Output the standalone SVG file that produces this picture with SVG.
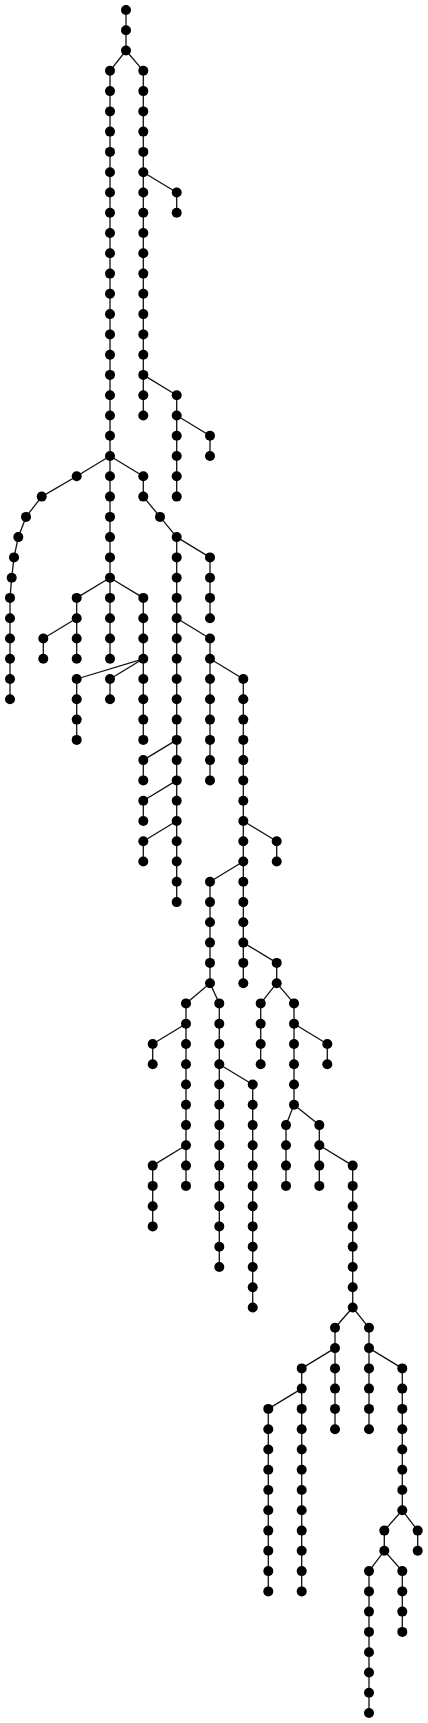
<svg xmlns="http://www.w3.org/2000/svg" width="428" height="1723" viewBox="0 0 428 1723">
<style>
.e line{stroke:#111;stroke-width:1.3;fill:none}
.n circle{fill:#000}
</style>
<rect width="428" height="1723" fill="#fff"/>
<g id="connectors" class="e">
<line x1="126" y1="10" x2="126" y2="30.3"/><line x1="126" y1="30.3" x2="126" y2="50.5"/>
<line x1="126" y1="50.5" x2="110" y2="70.8"/><line x1="126" y1="50.5" x2="143.3" y2="70.8"/>
<line x1="110" y1="70.8" x2="110" y2="91.1"/><line x1="110" y1="91.1" x2="110" y2="111.4"/><line x1="110" y1="111.4" x2="110" y2="131.6"/><line x1="110" y1="131.6" x2="110" y2="151.9"/><line x1="110" y1="151.9" x2="110" y2="172.2"/><line x1="110" y1="172.2" x2="110" y2="192.5"/><line x1="110" y1="192.5" x2="110" y2="212.7"/><line x1="110" y1="212.7" x2="110" y2="233"/><line x1="110" y1="233" x2="110" y2="253.3"/><line x1="110" y1="253.3" x2="110" y2="273.6"/><line x1="110" y1="273.6" x2="110" y2="293.8"/><line x1="110" y1="293.8" x2="110" y2="314.1"/><line x1="110" y1="314.1" x2="110" y2="334.4"/><line x1="110" y1="334.4" x2="110" y2="354.7"/><line x1="110" y1="354.7" x2="110" y2="374.9"/><line x1="110" y1="374.9" x2="110" y2="395.2"/><line x1="110" y1="395.2" x2="110" y2="415.5"/><line x1="110" y1="415.5" x2="110" y2="435.8"/><line x1="110" y1="435.8" x2="110" y2="456"/>
<line x1="143.3" y1="70.8" x2="143.3" y2="91.1"/><line x1="143.3" y1="91.1" x2="143.3" y2="111.4"/><line x1="143.3" y1="111.4" x2="143.3" y2="131.6"/><line x1="143.3" y1="131.6" x2="143.3" y2="151.9"/><line x1="143.3" y1="151.9" x2="143.3" y2="172.2"/><line x1="143.3" y1="172.2" x2="143.3" y2="192.5"/><line x1="143.3" y1="192.5" x2="143.3" y2="212.7"/><line x1="143.3" y1="212.7" x2="143.3" y2="233"/><line x1="143.3" y1="233" x2="143.3" y2="253.3"/><line x1="143.3" y1="253.3" x2="143.3" y2="273.6"/><line x1="143.3" y1="273.6" x2="143.3" y2="293.8"/><line x1="143.3" y1="293.8" x2="143.3" y2="314.1"/><line x1="143.3" y1="314.1" x2="143.3" y2="334.4"/><line x1="143.3" y1="334.4" x2="143.3" y2="354.7"/><line x1="143.3" y1="354.7" x2="143.3" y2="374.9"/><line x1="143.3" y1="374.9" x2="143.3" y2="395.2"/><line x1="143.3" y1="395.2" x2="143.3" y2="415.5"/>
<line x1="143.3" y1="172.2" x2="176.7" y2="192.5"/><line x1="176.7" y1="192.5" x2="176.7" y2="212.7"/>
<line x1="143.3" y1="374.9" x2="176.7" y2="395.2"/><line x1="176.7" y1="395.2" x2="176.7" y2="415.5"/><line x1="176.7" y1="415.5" x2="176.7" y2="435.8"/><line x1="176.7" y1="435.8" x2="176.7" y2="456"/><line x1="176.7" y1="456" x2="176.7" y2="476.3"/><line x1="176.7" y1="476.3" x2="176.7" y2="496.6"/>
<line x1="176.7" y1="415.5" x2="210" y2="435.8"/><line x1="210" y1="435.8" x2="210" y2="456"/>
<line x1="110" y1="456" x2="76.7" y2="476.3"/><line x1="76.7" y1="476.3" x2="41.7" y2="496.6"/><line x1="41.7" y1="496.6" x2="26" y2="516.9"/><line x1="26" y1="516.9" x2="18.3" y2="537.1"/><line x1="18.3" y1="537.1" x2="14" y2="557.4"/><line x1="14" y1="557.4" x2="11.7" y2="577.7"/><line x1="11.7" y1="577.7" x2="10" y2="597.9"/><line x1="10" y1="597.9" x2="10" y2="618.2"/><line x1="10" y1="618.2" x2="10" y2="638.5"/><line x1="10" y1="638.5" x2="10" y2="658.8"/><line x1="10" y1="658.8" x2="10" y2="679"/><line x1="10" y1="679" x2="10" y2="699.3"/>
<line x1="110" y1="456" x2="110" y2="476.3"/><line x1="110" y1="476.3" x2="110" y2="496.6"/><line x1="110" y1="496.6" x2="110" y2="516.9"/><line x1="110" y1="516.9" x2="110" y2="537.1"/><line x1="110" y1="537.1" x2="110" y2="557.4"/><line x1="110" y1="557.4" x2="110" y2="577.7"/>
<line x1="110" y1="577.7" x2="76.7" y2="597.9"/><line x1="76.7" y1="597.9" x2="76.7" y2="618.2"/><line x1="76.7" y1="618.2" x2="76.7" y2="638.5"/><line x1="76.7" y1="638.5" x2="76.7" y2="658.8"/>
<line x1="76.7" y1="618.2" x2="43.3" y2="638.5"/><line x1="43.3" y1="638.5" x2="43.3" y2="658.8"/>
<line x1="110" y1="577.7" x2="110" y2="597.9"/><line x1="110" y1="597.9" x2="110" y2="618.2"/><line x1="110" y1="618.2" x2="110" y2="638.5"/><line x1="110" y1="638.5" x2="110" y2="658.8"/>
<line x1="110" y1="577.7" x2="143.3" y2="597.9"/><line x1="143.3" y1="597.9" x2="143.3" y2="618.2"/><line x1="143.3" y1="618.2" x2="143.3" y2="638.5"/><line x1="143.3" y1="638.5" x2="143.3" y2="658.8"/>
<line x1="143.3" y1="658.8" x2="76.7" y2="679"/><line x1="76.7" y1="679" x2="76.7" y2="699.3"/><line x1="76.7" y1="699.3" x2="76.7" y2="719.6"/><line x1="76.7" y1="719.6" x2="76.7" y2="739.9"/>
<line x1="143.3" y1="658.8" x2="110" y2="679"/><line x1="110" y1="679" x2="110" y2="699.3"/>
<line x1="143.3" y1="658.8" x2="143.3" y2="679"/><line x1="143.3" y1="679" x2="143.3" y2="699.3"/><line x1="143.3" y1="699.3" x2="143.3" y2="719.6"/><line x1="143.3" y1="719.6" x2="143.3" y2="739.9"/>
<line x1="110" y1="456" x2="143.3" y2="476.3"/><line x1="143.3" y1="476.3" x2="143.3" y2="496.6"/><line x1="143.3" y1="496.6" x2="160" y2="516.9"/><line x1="160" y1="516.9" x2="176.7" y2="537.1"/>
<line x1="176.7" y1="537.1" x2="176.7" y2="557.4"/><line x1="176.7" y1="557.4" x2="176.7" y2="577.7"/><line x1="176.7" y1="577.7" x2="176.7" y2="597.9"/><line x1="176.7" y1="597.9" x2="176.7" y2="618.2"/><line x1="176.7" y1="618.2" x2="176.7" y2="638.5"/><line x1="176.7" y1="638.5" x2="176.7" y2="658.8"/><line x1="176.7" y1="658.8" x2="176.7" y2="679"/><line x1="176.7" y1="679" x2="176.7" y2="699.3"/><line x1="176.7" y1="699.3" x2="176.7" y2="719.6"/><line x1="176.7" y1="719.6" x2="176.7" y2="739.9"/><line x1="176.7" y1="739.9" x2="176.7" y2="760.1"/><line x1="176.7" y1="760.1" x2="176.7" y2="780.4"/><line x1="176.7" y1="780.4" x2="176.7" y2="800.7"/><line x1="176.7" y1="800.7" x2="176.7" y2="821"/><line x1="176.7" y1="821" x2="176.7" y2="841.2"/><line x1="176.7" y1="841.2" x2="176.7" y2="861.5"/><line x1="176.7" y1="861.5" x2="176.7" y2="881.8"/><line x1="176.7" y1="881.8" x2="176.7" y2="902.1"/>
<line x1="176.7" y1="537.1" x2="210" y2="557.4"/><line x1="210" y1="557.4" x2="210" y2="577.7"/><line x1="210" y1="577.7" x2="210" y2="597.9"/><line x1="210" y1="597.9" x2="210" y2="618.2"/>
<line x1="176.7" y1="618.2" x2="210" y2="638.5"/><line x1="210" y1="638.5" x2="210" y2="658.8"/><line x1="210" y1="658.8" x2="210" y2="679"/><line x1="210" y1="679" x2="210" y2="699.3"/><line x1="210" y1="699.3" x2="210" y2="719.6"/><line x1="210" y1="719.6" x2="210" y2="739.9"/><line x1="210" y1="739.9" x2="210" y2="760.1"/><line x1="210" y1="760.1" x2="210" y2="780.4"/>
<line x1="176.7" y1="739.9" x2="143.3" y2="760.1"/><line x1="143.3" y1="760.1" x2="143.3" y2="780.4"/>
<line x1="176.7" y1="780.4" x2="143.3" y2="800.7"/><line x1="143.3" y1="800.7" x2="143.3" y2="821"/>
<line x1="176.7" y1="821" x2="143.3" y2="841.2"/><line x1="143.3" y1="841.2" x2="143.3" y2="861.5"/>
<line x1="210" y1="658.8" x2="243.3" y2="679"/><line x1="243.3" y1="679" x2="243.3" y2="699.3"/><line x1="243.3" y1="699.3" x2="243.3" y2="719.6"/><line x1="243.3" y1="719.6" x2="243.3" y2="739.9"/><line x1="243.3" y1="739.9" x2="243.3" y2="760.1"/><line x1="243.3" y1="760.1" x2="243.3" y2="780.4"/><line x1="243.3" y1="780.4" x2="243.3" y2="800.7"/><line x1="243.3" y1="800.7" x2="243.3" y2="821"/><line x1="243.3" y1="821" x2="243.3" y2="841.2"/><line x1="243.3" y1="841.2" x2="243.3" y2="861.5"/><line x1="243.3" y1="861.5" x2="243.3" y2="881.8"/><line x1="243.3" y1="881.8" x2="243.3" y2="902.1"/><line x1="243.3" y1="902.1" x2="243.3" y2="922.3"/><line x1="243.3" y1="922.3" x2="243.3" y2="942.6"/><line x1="243.3" y1="942.6" x2="243.3" y2="962.9"/><line x1="243.3" y1="962.9" x2="243.3" y2="983.2"/>
<line x1="243.3" y1="821" x2="276.7" y2="841.2"/><line x1="276.7" y1="841.2" x2="276.7" y2="861.5"/>
<line x1="243.3" y1="861.5" x2="210" y2="881.8"/><line x1="210" y1="881.8" x2="210" y2="902.1"/><line x1="210" y1="902.1" x2="210" y2="922.3"/><line x1="210" y1="922.3" x2="210" y2="942.6"/><line x1="210" y1="942.6" x2="210" y2="962.9"/><line x1="210" y1="962.9" x2="210" y2="983.2"/>
<line x1="210" y1="983.2" x2="186" y2="1003.4"/><line x1="186" y1="1003.4" x2="186" y2="1023.7"/><line x1="186" y1="1023.7" x2="186" y2="1044"/><line x1="186" y1="1044" x2="186" y2="1064.2"/><line x1="186" y1="1064.2" x2="186" y2="1084.5"/><line x1="186" y1="1084.5" x2="186" y2="1104.8"/><line x1="186" y1="1104.8" x2="186" y2="1125.1"/><line x1="186" y1="1125.1" x2="186" y2="1145.3"/><line x1="186" y1="1145.3" x2="186" y2="1165.6"/><line x1="186" y1="1165.6" x2="186" y2="1185.9"/>
<line x1="186" y1="1023.7" x2="152.7" y2="1044"/><line x1="152.7" y1="1044" x2="152.7" y2="1064.2"/>
<line x1="186" y1="1145.3" x2="152.7" y2="1165.6"/><line x1="152.7" y1="1165.6" x2="152.7" y2="1185.9"/><line x1="152.7" y1="1185.9" x2="152.7" y2="1206.2"/><line x1="152.7" y1="1206.2" x2="152.7" y2="1226.4"/>
<line x1="210" y1="983.2" x2="219.3" y2="1003.4"/><line x1="219.3" y1="1003.4" x2="219.3" y2="1023.7"/><line x1="219.3" y1="1023.7" x2="219.3" y2="1044"/><line x1="219.3" y1="1044" x2="219.3" y2="1064.2"/><line x1="219.3" y1="1064.2" x2="219.3" y2="1084.5"/><line x1="219.3" y1="1084.5" x2="219.3" y2="1104.8"/><line x1="219.3" y1="1104.8" x2="219.3" y2="1125.1"/><line x1="219.3" y1="1125.1" x2="219.3" y2="1145.3"/><line x1="219.3" y1="1145.3" x2="219.3" y2="1165.6"/><line x1="219.3" y1="1165.6" x2="219.3" y2="1185.9"/><line x1="219.3" y1="1185.9" x2="219.3" y2="1206.2"/><line x1="219.3" y1="1206.2" x2="219.3" y2="1226.4"/><line x1="219.3" y1="1226.4" x2="219.3" y2="1246.7"/><line x1="219.3" y1="1246.7" x2="219.3" y2="1267"/>
<line x1="219.3" y1="1064.2" x2="252.7" y2="1084.5"/><line x1="252.7" y1="1084.5" x2="252.7" y2="1104.8"/><line x1="252.7" y1="1104.8" x2="252.7" y2="1125.1"/><line x1="252.7" y1="1125.1" x2="252.7" y2="1145.3"/><line x1="252.7" y1="1145.3" x2="252.7" y2="1165.6"/><line x1="252.7" y1="1165.6" x2="252.7" y2="1185.9"/><line x1="252.7" y1="1185.9" x2="252.7" y2="1206.2"/><line x1="252.7" y1="1206.2" x2="252.7" y2="1226.4"/><line x1="252.7" y1="1226.4" x2="252.7" y2="1246.7"/><line x1="252.7" y1="1246.7" x2="252.7" y2="1267"/><line x1="252.7" y1="1267" x2="252.7" y2="1287.3"/><line x1="252.7" y1="1287.3" x2="252.7" y2="1307.5"/>
<line x1="243.3" y1="942.6" x2="276.7" y2="962.9"/><line x1="276.7" y1="962.9" x2="276.7" y2="983.2"/>
<line x1="276.7" y1="983.2" x2="260.7" y2="1003.4"/><line x1="260.7" y1="1003.4" x2="260.7" y2="1023.7"/><line x1="260.7" y1="1023.7" x2="260.7" y2="1044"/><line x1="260.7" y1="1044" x2="260.7" y2="1064.2"/>
<line x1="276.7" y1="983.2" x2="294" y2="1003.4"/><line x1="294" y1="1003.4" x2="294" y2="1023.7"/><line x1="294" y1="1023.7" x2="294" y2="1044"/><line x1="294" y1="1044" x2="294" y2="1064.2"/><line x1="294" y1="1064.2" x2="294" y2="1084.5"/><line x1="294" y1="1084.5" x2="294" y2="1104.8"/>
<line x1="294" y1="1023.7" x2="327.3" y2="1044"/><line x1="327.3" y1="1044" x2="327.3" y2="1064.2"/>
<line x1="294" y1="1104.8" x2="286" y2="1125.1"/><line x1="286" y1="1125.1" x2="286" y2="1145.3"/><line x1="286" y1="1145.3" x2="286" y2="1165.6"/><line x1="286" y1="1165.6" x2="286" y2="1185.9"/>
<line x1="294" y1="1104.8" x2="319.3" y2="1125.1"/><line x1="319.3" y1="1125.1" x2="319.3" y2="1145.3"/><line x1="319.3" y1="1145.3" x2="319.3" y2="1165.6"/><line x1="319.3" y1="1165.6" x2="319.3" y2="1185.9"/>
<line x1="319.3" y1="1145.3" x2="352.7" y2="1165.6"/><line x1="352.7" y1="1165.6" x2="352.7" y2="1185.9"/><line x1="352.7" y1="1185.9" x2="352.7" y2="1206.2"/><line x1="352.7" y1="1206.2" x2="352.7" y2="1226.4"/><line x1="352.7" y1="1226.4" x2="352.7" y2="1246.7"/><line x1="352.7" y1="1246.7" x2="352.7" y2="1267"/><line x1="352.7" y1="1267" x2="352.7" y2="1287.3"/><line x1="352.7" y1="1287.3" x2="352.7" y2="1307.5"/>
<line x1="352.7" y1="1307.5" x2="335" y2="1327.8"/><line x1="335" y1="1327.8" x2="335" y2="1348.1"/><line x1="335" y1="1348.1" x2="335" y2="1368.4"/><line x1="335" y1="1368.4" x2="335" y2="1388.6"/><line x1="335" y1="1388.6" x2="335" y2="1408.9"/><line x1="335" y1="1408.9" x2="335" y2="1429.2"/>
<line x1="335" y1="1348.1" x2="301.7" y2="1368.4"/><line x1="301.7" y1="1368.4" x2="301.7" y2="1388.6"/><line x1="301.7" y1="1388.6" x2="301.7" y2="1408.9"/><line x1="301.7" y1="1408.9" x2="301.7" y2="1429.2"/><line x1="301.7" y1="1429.2" x2="301.7" y2="1449.5"/><line x1="301.7" y1="1449.5" x2="301.7" y2="1469.7"/><line x1="301.7" y1="1469.7" x2="301.7" y2="1490"/><line x1="301.7" y1="1490" x2="301.7" y2="1510.3"/><line x1="301.7" y1="1510.3" x2="301.7" y2="1530.6"/><line x1="301.7" y1="1530.6" x2="301.7" y2="1550.8"/><line x1="301.7" y1="1550.8" x2="301.7" y2="1571.1"/><line x1="301.7" y1="1571.1" x2="301.7" y2="1591.4"/>
<line x1="301.7" y1="1388.6" x2="268.3" y2="1408.9"/><line x1="268.3" y1="1408.9" x2="268.3" y2="1429.2"/><line x1="268.3" y1="1429.2" x2="268.3" y2="1449.5"/><line x1="268.3" y1="1449.5" x2="268.3" y2="1469.7"/><line x1="268.3" y1="1469.7" x2="268.3" y2="1490"/><line x1="268.3" y1="1490" x2="268.3" y2="1510.3"/><line x1="268.3" y1="1510.3" x2="268.3" y2="1530.6"/><line x1="268.3" y1="1530.6" x2="268.3" y2="1550.8"/><line x1="268.3" y1="1550.8" x2="268.3" y2="1571.1"/><line x1="268.3" y1="1571.1" x2="268.3" y2="1591.4"/>
<line x1="352.7" y1="1307.5" x2="369" y2="1327.8"/><line x1="369" y1="1327.8" x2="369" y2="1348.1"/><line x1="369" y1="1348.1" x2="369" y2="1368.4"/><line x1="369" y1="1368.4" x2="369" y2="1388.6"/><line x1="369" y1="1388.6" x2="369" y2="1408.9"/><line x1="369" y1="1408.9" x2="369" y2="1429.2"/>
<line x1="369" y1="1348.1" x2="402.3" y2="1368.4"/><line x1="402.3" y1="1368.4" x2="402.3" y2="1388.6"/><line x1="402.3" y1="1388.6" x2="402.3" y2="1408.9"/><line x1="402.3" y1="1408.9" x2="402.3" y2="1429.2"/><line x1="402.3" y1="1429.2" x2="402.3" y2="1449.5"/><line x1="402.3" y1="1449.5" x2="402.3" y2="1469.7"/><line x1="402.3" y1="1469.7" x2="402.3" y2="1490"/><line x1="402.3" y1="1490" x2="402.3" y2="1510.3"/>
<line x1="402.3" y1="1510.3" x2="384.3" y2="1530.6"/><line x1="384.3" y1="1530.6" x2="384.3" y2="1550.8"/>
<line x1="384.3" y1="1550.8" x2="369" y2="1571.1"/><line x1="369" y1="1571.1" x2="369" y2="1591.4"/><line x1="369" y1="1591.4" x2="369" y2="1611.6"/><line x1="369" y1="1611.6" x2="369" y2="1631.9"/><line x1="369" y1="1631.9" x2="369" y2="1652.2"/><line x1="369" y1="1652.2" x2="369" y2="1672.5"/><line x1="369" y1="1672.5" x2="369" y2="1692.7"/><line x1="369" y1="1692.7" x2="369" y2="1713"/>
<line x1="384.3" y1="1550.8" x2="402.3" y2="1571.1"/><line x1="402.3" y1="1571.1" x2="402.3" y2="1591.4"/><line x1="402.3" y1="1591.4" x2="402.3" y2="1611.6"/><line x1="402.3" y1="1611.6" x2="402.3" y2="1631.9"/>
<line x1="402.3" y1="1510.3" x2="417.7" y2="1530.6"/><line x1="417.7" y1="1530.6" x2="417.7" y2="1550.8"/>
</g>
<g id="nodes" class="n">
<g id="n0"><circle cx="126" cy="10" r="5"/></g><g id="n1"><circle cx="126" cy="30.3" r="5"/></g><g id="n2"><circle cx="126" cy="50.5" r="5"/></g>
<g id="a3"><circle cx="110" cy="70.8" r="5"/></g><g id="a4"><circle cx="110" cy="91.1" r="5"/></g><g id="a5"><circle cx="110" cy="111.4" r="5"/></g><g id="a6"><circle cx="110" cy="131.6" r="5"/></g><g id="a7"><circle cx="110" cy="151.9" r="5"/></g><g id="a8"><circle cx="110" cy="172.2" r="5"/></g><g id="a9"><circle cx="110" cy="192.5" r="5"/></g><g id="a10"><circle cx="110" cy="212.7" r="5"/></g><g id="a11"><circle cx="110" cy="233" r="5"/></g><g id="a12"><circle cx="110" cy="253.3" r="5"/></g><g id="a13"><circle cx="110" cy="273.6" r="5"/></g><g id="a14"><circle cx="110" cy="293.8" r="5"/></g><g id="a15"><circle cx="110" cy="314.1" r="5"/></g><g id="a16"><circle cx="110" cy="334.4" r="5"/></g><g id="a17"><circle cx="110" cy="354.7" r="5"/></g><g id="a18"><circle cx="110" cy="374.9" r="5"/></g><g id="a19"><circle cx="110" cy="395.2" r="5"/></g><g id="a20"><circle cx="110" cy="415.5" r="5"/></g><g id="a21"><circle cx="110" cy="435.8" r="5"/></g><g id="a22"><circle cx="110" cy="456" r="5"/></g>
<g id="b3"><circle cx="143.3" cy="70.8" r="5"/></g><g id="b4"><circle cx="143.3" cy="91.1" r="5"/></g><g id="b5"><circle cx="143.3" cy="111.4" r="5"/></g><g id="b6"><circle cx="143.3" cy="131.6" r="5"/></g><g id="b7"><circle cx="143.3" cy="151.9" r="5"/></g><g id="b8"><circle cx="143.3" cy="172.2" r="5"/></g><g id="b9"><circle cx="143.3" cy="192.5" r="5"/></g><g id="b10"><circle cx="143.3" cy="212.7" r="5"/></g><g id="b11"><circle cx="143.3" cy="233" r="5"/></g><g id="b12"><circle cx="143.3" cy="253.3" r="5"/></g><g id="b13"><circle cx="143.3" cy="273.6" r="5"/></g><g id="b14"><circle cx="143.3" cy="293.8" r="5"/></g><g id="b15"><circle cx="143.3" cy="314.1" r="5"/></g><g id="b16"><circle cx="143.3" cy="334.4" r="5"/></g><g id="b17"><circle cx="143.3" cy="354.7" r="5"/></g><g id="b18"><circle cx="143.3" cy="374.9" r="5"/></g><g id="b19"><circle cx="143.3" cy="395.2" r="5"/></g><g id="b20"><circle cx="143.3" cy="415.5" r="5"/></g>
<g id="c9"><circle cx="176.7" cy="192.5" r="5"/></g><g id="c10"><circle cx="176.7" cy="212.7" r="5"/></g>
<g id="d19"><circle cx="176.7" cy="395.2" r="5"/></g><g id="d20"><circle cx="176.7" cy="415.5" r="5"/></g><g id="d21"><circle cx="176.7" cy="435.8" r="5"/></g><g id="d22"><circle cx="176.7" cy="456" r="5"/></g><g id="d23"><circle cx="176.7" cy="476.3" r="5"/></g><g id="d24"><circle cx="176.7" cy="496.6" r="5"/></g>
<g id="e21"><circle cx="210" cy="435.8" r="5"/></g><g id="e22"><circle cx="210" cy="456" r="5"/></g>
<g id="f23"><circle cx="76.7" cy="476.3" r="5"/></g><g id="f24"><circle cx="41.7" cy="496.6" r="5"/></g><g id="f25"><circle cx="26" cy="516.9" r="5"/></g><g id="f26"><circle cx="18.3" cy="537.1" r="5"/></g><g id="f27"><circle cx="14" cy="557.4" r="5"/></g><g id="f28"><circle cx="11.7" cy="577.7" r="5"/></g><g id="f29"><circle cx="10" cy="597.9" r="5"/></g><g id="f30"><circle cx="10" cy="618.2" r="5"/></g><g id="f31"><circle cx="10" cy="638.5" r="5"/></g><g id="f32"><circle cx="10" cy="658.8" r="5"/></g><g id="f33"><circle cx="10" cy="679" r="5"/></g><g id="f34"><circle cx="10" cy="699.3" r="5"/></g>
<g id="g23"><circle cx="110" cy="476.3" r="5"/></g><g id="g24"><circle cx="110" cy="496.6" r="5"/></g><g id="g25"><circle cx="110" cy="516.9" r="5"/></g><g id="g26"><circle cx="110" cy="537.1" r="5"/></g><g id="g27"><circle cx="110" cy="557.4" r="5"/></g><g id="g28"><circle cx="110" cy="577.7" r="5"/></g>
<g id="h29"><circle cx="76.7" cy="597.9" r="5"/></g><g id="h30"><circle cx="76.7" cy="618.2" r="5"/></g><g id="h31"><circle cx="76.7" cy="638.5" r="5"/></g><g id="h32"><circle cx="76.7" cy="658.8" r="5"/></g>
<g id="i31"><circle cx="43.3" cy="638.5" r="5"/></g><g id="i32"><circle cx="43.3" cy="658.8" r="5"/></g>
<g id="j29"><circle cx="110" cy="597.9" r="5"/></g><g id="j30"><circle cx="110" cy="618.2" r="5"/></g><g id="j31"><circle cx="110" cy="638.5" r="5"/></g><g id="j32"><circle cx="110" cy="658.8" r="5"/></g>
<g id="k29"><circle cx="143.3" cy="597.9" r="5"/></g><g id="k30"><circle cx="143.3" cy="618.2" r="5"/></g><g id="k31"><circle cx="143.3" cy="638.5" r="5"/></g><g id="k32"><circle cx="143.3" cy="658.8" r="5"/></g>
<g id="l33"><circle cx="76.7" cy="679" r="5"/></g><g id="l34"><circle cx="76.7" cy="699.3" r="5"/></g><g id="l35"><circle cx="76.7" cy="719.6" r="5"/></g><g id="l36"><circle cx="76.7" cy="739.9" r="5"/></g>
<g id="m33"><circle cx="110" cy="679" r="5"/></g><g id="m34"><circle cx="110" cy="699.3" r="5"/></g>
<g id="o33"><circle cx="143.3" cy="679" r="5"/></g><g id="o34"><circle cx="143.3" cy="699.3" r="5"/></g><g id="o35"><circle cx="143.3" cy="719.6" r="5"/></g><g id="o36"><circle cx="143.3" cy="739.9" r="5"/></g>
<g id="p23"><circle cx="143.3" cy="476.3" r="5"/></g><g id="p24"><circle cx="143.3" cy="496.6" r="5"/></g><g id="p25"><circle cx="160" cy="516.9" r="5"/></g><g id="p26"><circle cx="176.7" cy="537.1" r="5"/></g><g id="p27"><circle cx="176.7" cy="557.4" r="5"/></g><g id="p28"><circle cx="176.7" cy="577.7" r="5"/></g><g id="p29"><circle cx="176.7" cy="597.9" r="5"/></g><g id="p30"><circle cx="176.7" cy="618.2" r="5"/></g><g id="p31"><circle cx="176.7" cy="638.5" r="5"/></g><g id="p32"><circle cx="176.7" cy="658.8" r="5"/></g><g id="p33"><circle cx="176.7" cy="679" r="5"/></g><g id="p34"><circle cx="176.7" cy="699.3" r="5"/></g><g id="p35"><circle cx="176.7" cy="719.6" r="5"/></g><g id="p36"><circle cx="176.7" cy="739.9" r="5"/></g><g id="p37"><circle cx="176.7" cy="760.1" r="5"/></g><g id="p38"><circle cx="176.7" cy="780.4" r="5"/></g><g id="p39"><circle cx="176.7" cy="800.7" r="5"/></g><g id="p40"><circle cx="176.7" cy="821" r="5"/></g><g id="p41"><circle cx="176.7" cy="841.2" r="5"/></g><g id="p42"><circle cx="176.7" cy="861.5" r="5"/></g><g id="p43"><circle cx="176.7" cy="881.8" r="5"/></g><g id="p44"><circle cx="176.7" cy="902.1" r="5"/></g>
<g id="q27"><circle cx="210" cy="557.4" r="5"/></g><g id="q28"><circle cx="210" cy="577.7" r="5"/></g><g id="q29"><circle cx="210" cy="597.9" r="5"/></g><g id="q30"><circle cx="210" cy="618.2" r="5"/></g>
<g id="s31"><circle cx="210" cy="638.5" r="5"/></g><g id="s32"><circle cx="210" cy="658.8" r="5"/></g><g id="s33"><circle cx="210" cy="679" r="5"/></g><g id="s34"><circle cx="210" cy="699.3" r="5"/></g><g id="s35"><circle cx="210" cy="719.6" r="5"/></g><g id="s36"><circle cx="210" cy="739.9" r="5"/></g><g id="s37"><circle cx="210" cy="760.1" r="5"/></g><g id="s38"><circle cx="210" cy="780.4" r="5"/></g>
<g id="r37"><circle cx="143.3" cy="760.1" r="5"/></g><g id="r38"><circle cx="143.3" cy="780.4" r="5"/></g><g id="r39"><circle cx="143.3" cy="800.7" r="5"/></g><g id="r40"><circle cx="143.3" cy="821" r="5"/></g><g id="r41"><circle cx="143.3" cy="841.2" r="5"/></g><g id="r42"><circle cx="143.3" cy="861.5" r="5"/></g>
<g id="t33"><circle cx="243.3" cy="679" r="5"/></g><g id="t34"><circle cx="243.3" cy="699.3" r="5"/></g><g id="t35"><circle cx="243.3" cy="719.6" r="5"/></g><g id="t36"><circle cx="243.3" cy="739.9" r="5"/></g><g id="t37"><circle cx="243.3" cy="760.1" r="5"/></g><g id="t38"><circle cx="243.3" cy="780.4" r="5"/></g><g id="t39"><circle cx="243.3" cy="800.7" r="5"/></g><g id="t40"><circle cx="243.3" cy="821" r="5"/></g><g id="t41"><circle cx="243.3" cy="841.2" r="5"/></g><g id="t42"><circle cx="243.3" cy="861.5" r="5"/></g><g id="t43"><circle cx="243.3" cy="881.8" r="5"/></g><g id="t44"><circle cx="243.3" cy="902.1" r="5"/></g><g id="t45"><circle cx="243.3" cy="922.3" r="5"/></g><g id="t46"><circle cx="243.3" cy="942.6" r="5"/></g><g id="t47"><circle cx="243.3" cy="962.9" r="5"/></g><g id="t48"><circle cx="243.3" cy="983.2" r="5"/></g>
<g id="u41"><circle cx="276.7" cy="841.2" r="5"/></g><g id="u42"><circle cx="276.7" cy="861.5" r="5"/></g>
<g id="v43"><circle cx="210" cy="881.8" r="5"/></g><g id="v44"><circle cx="210" cy="902.1" r="5"/></g><g id="v45"><circle cx="210" cy="922.3" r="5"/></g><g id="v46"><circle cx="210" cy="942.6" r="5"/></g><g id="v47"><circle cx="210" cy="962.9" r="5"/></g><g id="v48"><circle cx="210" cy="983.2" r="5"/></g>
<g id="w49"><circle cx="186" cy="1003.4" r="5"/></g><g id="w50"><circle cx="186" cy="1023.7" r="5"/></g><g id="w51"><circle cx="186" cy="1044" r="5"/></g><g id="w52"><circle cx="186" cy="1064.2" r="5"/></g><g id="w53"><circle cx="186" cy="1084.5" r="5"/></g><g id="w54"><circle cx="186" cy="1104.8" r="5"/></g><g id="w55"><circle cx="186" cy="1125.1" r="5"/></g><g id="w56"><circle cx="186" cy="1145.3" r="5"/></g><g id="w57"><circle cx="186" cy="1165.6" r="5"/></g><g id="w58"><circle cx="186" cy="1185.9" r="5"/></g>
<g id="x51"><circle cx="152.7" cy="1044" r="5"/></g><g id="x52"><circle cx="152.7" cy="1064.2" r="5"/></g>
<g id="y57"><circle cx="152.7" cy="1165.6" r="5"/></g><g id="y58"><circle cx="152.7" cy="1185.9" r="5"/></g><g id="y59"><circle cx="152.7" cy="1206.2" r="5"/></g><g id="y60"><circle cx="152.7" cy="1226.4" r="5"/></g>
<g id="z49"><circle cx="219.3" cy="1003.4" r="5"/></g><g id="z50"><circle cx="219.3" cy="1023.7" r="5"/></g><g id="z51"><circle cx="219.3" cy="1044" r="5"/></g><g id="z52"><circle cx="219.3" cy="1064.2" r="5"/></g><g id="z53"><circle cx="219.3" cy="1084.5" r="5"/></g><g id="z54"><circle cx="219.3" cy="1104.8" r="5"/></g><g id="z55"><circle cx="219.3" cy="1125.1" r="5"/></g><g id="z56"><circle cx="219.3" cy="1145.3" r="5"/></g><g id="z57"><circle cx="219.3" cy="1165.6" r="5"/></g><g id="z58"><circle cx="219.3" cy="1185.9" r="5"/></g><g id="z59"><circle cx="219.3" cy="1206.2" r="5"/></g><g id="z60"><circle cx="219.3" cy="1226.4" r="5"/></g><g id="z61"><circle cx="219.3" cy="1246.7" r="5"/></g><g id="z62"><circle cx="219.3" cy="1267" r="5"/></g>
<g id="aa53"><circle cx="252.7" cy="1084.5" r="5"/></g><g id="aa54"><circle cx="252.7" cy="1104.8" r="5"/></g><g id="aa55"><circle cx="252.7" cy="1125.1" r="5"/></g><g id="aa56"><circle cx="252.7" cy="1145.3" r="5"/></g><g id="aa57"><circle cx="252.7" cy="1165.6" r="5"/></g><g id="aa58"><circle cx="252.7" cy="1185.9" r="5"/></g><g id="aa59"><circle cx="252.7" cy="1206.2" r="5"/></g><g id="aa60"><circle cx="252.7" cy="1226.4" r="5"/></g><g id="aa61"><circle cx="252.7" cy="1246.7" r="5"/></g><g id="aa62"><circle cx="252.7" cy="1267" r="5"/></g><g id="aa63"><circle cx="252.7" cy="1287.3" r="5"/></g><g id="aa64"><circle cx="252.7" cy="1307.5" r="5"/></g>
<g id="bb47"><circle cx="276.7" cy="962.9" r="5"/></g><g id="bb48"><circle cx="276.7" cy="983.2" r="5"/></g>
<g id="cc49"><circle cx="260.7" cy="1003.4" r="5"/></g><g id="cc50"><circle cx="260.7" cy="1023.7" r="5"/></g><g id="cc51"><circle cx="260.7" cy="1044" r="5"/></g><g id="cc52"><circle cx="260.7" cy="1064.2" r="5"/></g>
<g id="dd49"><circle cx="294" cy="1003.4" r="5"/></g><g id="dd50"><circle cx="294" cy="1023.7" r="5"/></g><g id="dd51"><circle cx="294" cy="1044" r="5"/></g><g id="dd52"><circle cx="294" cy="1064.2" r="5"/></g><g id="dd53"><circle cx="294" cy="1084.5" r="5"/></g><g id="dd54"><circle cx="294" cy="1104.8" r="5"/></g>
<g id="ee51"><circle cx="327.3" cy="1044" r="5"/></g><g id="ee52"><circle cx="327.3" cy="1064.2" r="5"/></g>
<g id="ff55"><circle cx="286" cy="1125.1" r="5"/></g><g id="ff56"><circle cx="286" cy="1145.3" r="5"/></g><g id="ff57"><circle cx="286" cy="1165.6" r="5"/></g><g id="ff58"><circle cx="286" cy="1185.9" r="5"/></g>
<g id="gg55"><circle cx="319.3" cy="1125.1" r="5"/></g><g id="gg56"><circle cx="319.3" cy="1145.3" r="5"/></g><g id="gg57"><circle cx="319.3" cy="1165.6" r="5"/></g><g id="gg58"><circle cx="319.3" cy="1185.9" r="5"/></g>
<g id="hh57"><circle cx="352.7" cy="1165.6" r="5"/></g><g id="hh58"><circle cx="352.7" cy="1185.9" r="5"/></g><g id="hh59"><circle cx="352.7" cy="1206.2" r="5"/></g><g id="hh60"><circle cx="352.7" cy="1226.4" r="5"/></g><g id="hh61"><circle cx="352.7" cy="1246.7" r="5"/></g><g id="hh62"><circle cx="352.7" cy="1267" r="5"/></g><g id="hh63"><circle cx="352.7" cy="1287.3" r="5"/></g><g id="hh64"><circle cx="352.7" cy="1307.5" r="5"/></g>
<g id="ii65"><circle cx="335" cy="1327.8" r="5"/></g><g id="ii66"><circle cx="335" cy="1348.1" r="5"/></g><g id="ii67"><circle cx="335" cy="1368.4" r="5"/></g><g id="ii68"><circle cx="335" cy="1388.6" r="5"/></g><g id="ii69"><circle cx="335" cy="1408.9" r="5"/></g><g id="ii70"><circle cx="335" cy="1429.2" r="5"/></g>
<g id="jj67"><circle cx="301.7" cy="1368.4" r="5"/></g><g id="jj68"><circle cx="301.7" cy="1388.6" r="5"/></g><g id="jj69"><circle cx="301.7" cy="1408.9" r="5"/></g><g id="jj70"><circle cx="301.7" cy="1429.2" r="5"/></g><g id="jj71"><circle cx="301.7" cy="1449.5" r="5"/></g><g id="jj72"><circle cx="301.7" cy="1469.7" r="5"/></g><g id="jj73"><circle cx="301.7" cy="1490" r="5"/></g><g id="jj74"><circle cx="301.7" cy="1510.3" r="5"/></g><g id="jj75"><circle cx="301.7" cy="1530.6" r="5"/></g><g id="jj76"><circle cx="301.7" cy="1550.8" r="5"/></g><g id="jj77"><circle cx="301.7" cy="1571.1" r="5"/></g><g id="jj78"><circle cx="301.7" cy="1591.4" r="5"/></g>
<g id="kk69"><circle cx="268.3" cy="1408.9" r="5"/></g><g id="kk70"><circle cx="268.3" cy="1429.2" r="5"/></g><g id="kk71"><circle cx="268.3" cy="1449.5" r="5"/></g><g id="kk72"><circle cx="268.3" cy="1469.7" r="5"/></g><g id="kk73"><circle cx="268.3" cy="1490" r="5"/></g><g id="kk74"><circle cx="268.3" cy="1510.3" r="5"/></g><g id="kk75"><circle cx="268.3" cy="1530.6" r="5"/></g><g id="kk76"><circle cx="268.3" cy="1550.8" r="5"/></g><g id="kk77"><circle cx="268.3" cy="1571.1" r="5"/></g><g id="kk78"><circle cx="268.3" cy="1591.4" r="5"/></g>
<g id="ll65"><circle cx="369" cy="1327.8" r="5"/></g><g id="ll66"><circle cx="369" cy="1348.1" r="5"/></g><g id="ll67"><circle cx="369" cy="1368.4" r="5"/></g><g id="ll68"><circle cx="369" cy="1388.6" r="5"/></g><g id="ll69"><circle cx="369" cy="1408.9" r="5"/></g><g id="ll70"><circle cx="369" cy="1429.2" r="5"/></g>
<g id="mm67"><circle cx="402.3" cy="1368.4" r="5"/></g><g id="mm68"><circle cx="402.3" cy="1388.6" r="5"/></g><g id="mm69"><circle cx="402.3" cy="1408.9" r="5"/></g><g id="mm70"><circle cx="402.3" cy="1429.2" r="5"/></g><g id="mm71"><circle cx="402.3" cy="1449.5" r="5"/></g><g id="mm72"><circle cx="402.3" cy="1469.7" r="5"/></g><g id="mm73"><circle cx="402.3" cy="1490" r="5"/></g><g id="mm74"><circle cx="402.3" cy="1510.3" r="5"/></g>
<g id="nn75"><circle cx="384.3" cy="1530.6" r="5"/></g><g id="nn76"><circle cx="384.3" cy="1550.8" r="5"/></g>
<g id="oo77"><circle cx="369" cy="1571.1" r="5"/></g><g id="oo78"><circle cx="369" cy="1591.4" r="5"/></g><g id="oo79"><circle cx="369" cy="1611.6" r="5"/></g><g id="oo80"><circle cx="369" cy="1631.9" r="5"/></g><g id="oo81"><circle cx="369" cy="1652.2" r="5"/></g><g id="oo82"><circle cx="369" cy="1672.5" r="5"/></g><g id="oo83"><circle cx="369" cy="1692.7" r="5"/></g><g id="oo84"><circle cx="369" cy="1713" r="5"/></g>
<g id="pp77"><circle cx="402.3" cy="1571.1" r="5"/></g><g id="pp78"><circle cx="402.3" cy="1591.4" r="5"/></g><g id="pp79"><circle cx="402.3" cy="1611.6" r="5"/></g><g id="pp80"><circle cx="402.3" cy="1631.9" r="5"/></g>
<g id="qq75"><circle cx="417.7" cy="1530.6" r="5"/></g><g id="qq76"><circle cx="417.7" cy="1550.8" r="5"/></g>
</g>
</svg>
